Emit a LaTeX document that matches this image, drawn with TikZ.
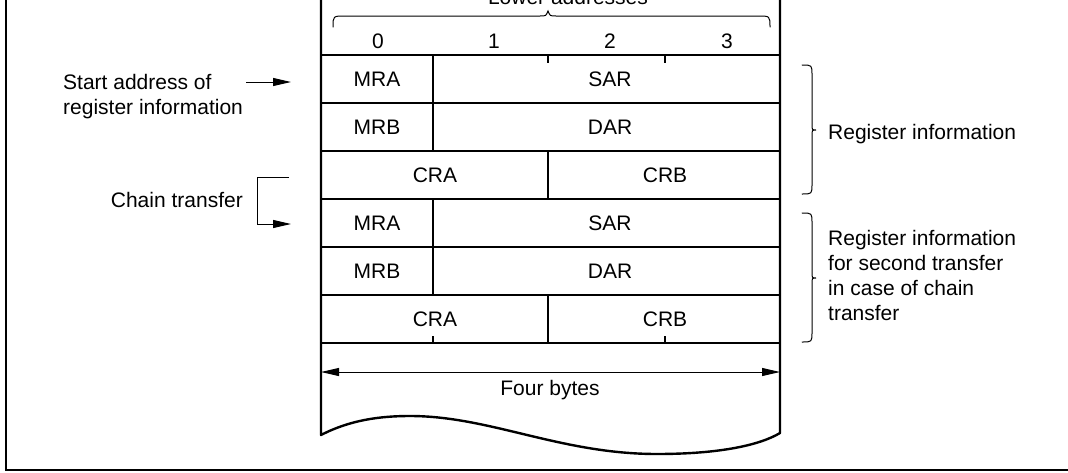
\documentclass[tikz,border=0pt]{standalone}
\usepackage{fontspec}
\setmainfont{Liberation Sans}
\usetikzlibrary{arrows.meta}
\begin{document}
\begin{tikzpicture}[x=1pt,y=-1pt,
  every node/.style={font=\fontsize{21}{25}\selectfont, inner sep=0pt},
  frame/.style={line width=2pt},
  tab/.style={line width=2.4pt},
  thin/.style={line width=1pt},
  brc/.style={line width=1pt, line cap=round},
  arr/.style={line width=1pt, -{Triangle[length=18pt,width=8pt]}},
  darr/.style={line width=1pt, {Triangle[length=18pt,width=8pt]}-{Triangle[length=18pt,width=8pt]}},
  lbl/.style={anchor=center},
  txt/.style={anchor=base west}]
\useasboundingbox (0,0) rectangle (1068,472);
% outer frame (left and bottom visible)
\draw[frame] (6,-10) -- (6,470) -- (1080,470);
% table sides and wavy bottom
\draw[tab, line join=round] (321,-10) -- (321,435)
  .. controls (350,420) and (380,416) .. (410,416)
  .. controls (490,416) and (560,454) .. (657,454)
  .. controls (720,454) and (760,445) .. (780,433) -- (780,-10);
% row lines
\foreach \y in {55,103,151,199,247,295,343}
  \draw[tab] (321,\y) -- (780,\y);
% column dividers
\draw[tab] (433,55) -- (433,151);
\draw[tab] (433,199) -- (433,295);
\draw[tab] (548,151) -- (548,199);
\draw[tab] (548,295) -- (548,343);
% ticks
\draw[tab] (548,55) -- (548,63);
\draw[tab] (665,55) -- (665,63);
\draw[tab] (433,343) -- (433,336);
\draw[tab] (665,343) -- (665,336);
% top brace
\draw[brc] (333,27) .. controls (333,16) .. (345,16) -- (540,16)
  .. controls (546,16) .. (548,11) .. controls (550,16) .. (556,16)
  -- (758,16) .. controls (770,16) .. (770,27);
\node[anchor=base] (lower) at (568,4) {Lower addresses};
% byte numbers
\node[lbl] (b0) at (378,41) {0};
\node[lbl] (b1) at (494,41) {1};
\node[lbl] (b2) at (610,41) {2};
\node[lbl] (b3) at (727,41) {3};
% cell labels
\node[lbl] (mra1) at (377,79) {MRA};
\node[lbl] (sar1) at (610,79) {SAR};
\node[lbl] (mrb1) at (377,127) {MRB};
\node[lbl] (dar1) at (610,127) {DAR};
\node[lbl] (cra1) at (435,175) {CRA};
\node[lbl] (crb1) at (665,175) {CRB};
\node[lbl] (mra2) at (377,223) {MRA};
\node[lbl] (sar2) at (610,223) {SAR};
\node[lbl] (mrb2) at (377,271) {MRB};
\node[lbl] (dar2) at (610,271) {DAR};
\node[lbl] (cra2) at (435,319) {CRA};
\node[lbl] (crb2) at (665,319) {CRB};
% four bytes
\coordinate (fbL) at (321,372);
\coordinate (fbR) at (780,372);
\draw[darr] (fbL) -- (fbR);
\node[anchor=base] (four) at (550,395) {Four bytes};
% left labels
\node[txt] (sa1) at (63,89) {Start address of};
\node[txt] (sa2) at (63,114) {register information};
\coordinate (saA) at (246,82);
\coordinate (saB) at (291,82);
\draw[arr] (saA) -- (saB);
\node[anchor=base east] (chain) at (243,207) {Chain transfer};
\coordinate (chA) at (289,177);
\coordinate (chB) at (257,177);
\coordinate (chC) at (257,224);
\coordinate (chD) at (291,224);
\draw[arr] (chA) -- (chB) -- (chC) -- (chD);
% right braces
\draw[brc] (802,65) .. controls (812,65) .. (812,75) -- (812,124)
  .. controls (812,130) .. (816,130) .. controls (812,130) .. (812,136)
  -- (812,184) .. controls (812,194) .. (802,194);
\node[txt] (ri) at (828,139) {Register information};
\draw[brc] (802,213) .. controls (812,213) .. (812,223) -- (812,272)
  .. controls (812,278) .. (816,278) .. controls (812,278) .. (812,284)
  -- (812,332) .. controls (812,342) .. (802,342);
\node[txt] (r2a) at (828,245) {Register information};
\node[txt] (r2b) at (828,270) {for second transfer};
\node[txt] (r2c) at (828,295) {in case of chain};
\node[txt] (r2d) at (828,320) {transfer};
\end{tikzpicture}
\end{document}
